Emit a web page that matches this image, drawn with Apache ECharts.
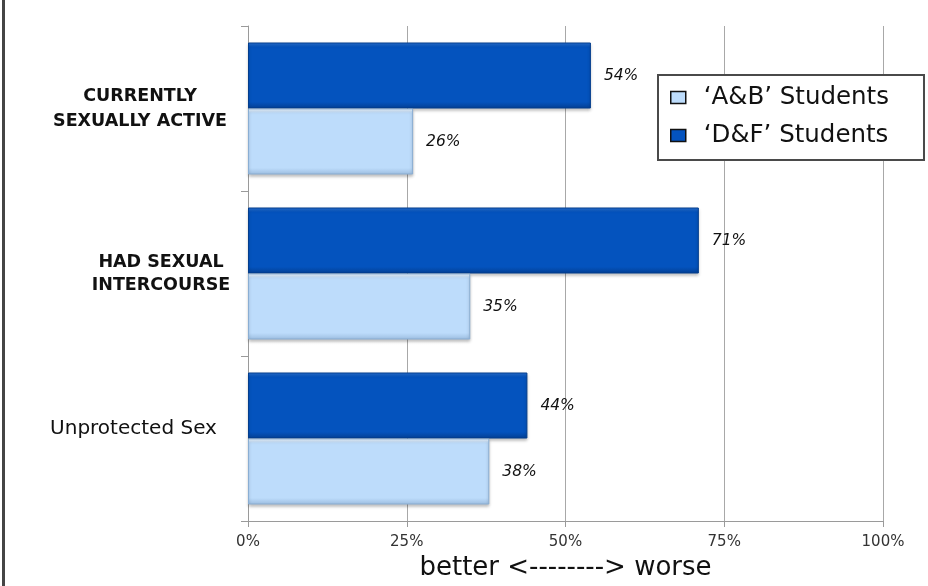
<!DOCTYPE html>
<html>
<head>
<meta charset="utf-8">
<script src="https://cdn.jsdelivr.net/npm/echarts@6/dist/echarts.min.js"></script>
<style>
html,body{margin:0;padding:0;background:#fff;}
#chart{width:928px;height:586px;}
</style>
</head>
<body>
<div id="chart"></div>
<script>
// Categories listed bottom-to-top (as drawn on the category axis)
const categories = ['Unprotected Sex', 'HAD SEXUAL\nINTERCOURSE', 'CURRENTLY\nSEXUALLY ACTIVE'];
const seriesNames = ['\u2018A&B\u2019 Students', '\u2018D&F\u2019 Students'];
const abValues = [38, 35, 26];
const dfValues = [44, 71, 54];
const xTicks = [0, 25, 50, 75, 100];
const xAxisTitle = 'better <--------> worse';

const chart = echarts.init(document.getElementById('chart'), null, {renderer: 'canvas'});
const FONT = 'DejaVu Sans';

function grad(c0, c1, c2, c3) {
  return new echarts.graphic.LinearGradient(0, 0, 0, 1, [
    {offset: 0, color: c0},
    {offset: 0.07, color: c1},
    {offset: 0.9, color: c2},
    {offset: 1, color: c3}
  ]);
}

const labelStyle = {
  show: true,
  position: 'right',
  distance: 13,
  fontFamily: FONT,
  fontSize: 15.5,
  fontStyle: 'italic',
  fontWeight: 500,
  color: '#111',
  formatter: '{c}%'
};

const option = {
  backgroundColor: '#ffffff',
  animation: false,
  textStyle: {fontFamily: FONT},
  graphic: [
    {type: 'rect', left: 2, top: 0, shape: {width: 3, height: 586}, style: {fill: '#454545'}}
  ],
  grid: {left: 248, right: 45, top: 26, bottom: 64},
  legend: {
    data: seriesNames,
    orient: 'vertical',
    left: 658,
    top: 75,
    padding: [10, 35, 12, 12],
    itemGap: 13,
    itemWidth: 15,
    itemHeight: 12,
    borderColor: '#4a4a4a',
    borderWidth: 2,
    backgroundColor: '#fff',
    icon: 'rect',
    itemStyle: {borderColor: '#111', borderWidth: 1.5},
    textStyle: {fontFamily: FONT, fontSize: 24.5, color: '#111', padding: [0, 0, 0, 13]}
  },
  xAxis: {
    type: 'value',
    min: 0,
    max: 100,
    interval: 25,
    axisLine: {show: true, lineStyle: {color: '#9a9a9a', width: 1}},
    axisTick: {show: true, length: 6, lineStyle: {color: '#9a9a9a'}},
    splitLine: {show: true, lineStyle: {color: '#a8a8a8', width: 1}},
    axisLabel: {
      margin: 14,
      fontFamily: FONT,
      fontSize: 15,
      color: '#333',
      formatter: function (v) { return xTicks.indexOf(v) >= 0 ? v + '%' : ''; }
    },
    name: xAxisTitle,
    nameLocation: 'middle',
    nameGap: 34,
    nameTextStyle: {fontFamily: FONT, fontSize: 26, color: '#111'}
  },
  yAxis: {
    type: 'category',
    data: categories,
    axisLine: {show: true, lineStyle: {color: '#9a9a9a', width: 1}},
    axisTick: {show: true, length: 7, lineStyle: {color: '#9a9a9a'}},
    splitLine: {show: false},
    axisLabel: {
      margin: 10,
      formatter: function (value, idx) {
        const lines = value.split('\n');
        const key = idx === 0 ? 'u' : (idx === 1 ? 'h' : 'c');
        return lines.map(function (l) { return '{' + key + '|' + l + '}'; }).join('\n');
      },
      rich: {
        u: {fontFamily: FONT, fontSize: 20, color: '#111', width: 209, align: 'center', padding: [0, 0, 19, 0]},
        h: {fontFamily: FONT, fontSize: 17.5, fontWeight: 'bold', color: '#111', width: 154, align: 'center', lineHeight: 23},
        c: {fontFamily: FONT, fontSize: 17.5, fontWeight: 'bold', color: '#111', width: 196, align: 'center', lineHeight: 25}
      }
    }
  },
  series: [
    {
      name: seriesNames[1],
      type: 'bar',
      data: dfValues,
      barGap: '0%',
      barCategoryGap: '20%',
      itemStyle: {
        color: grad('#2a74d8', '#0453be', '#0453be', '#033f93'),
        borderColor: '#033d8c',
        borderWidth: 1,
        shadowColor: 'rgba(0,0,0,0.25)',
        shadowBlur: 3,
        shadowOffsetY: 2
      },
      label: labelStyle
    },
    {
      name: seriesNames[0],
      type: 'bar',
      data: abValues,
      barGap: '0%',
      barCategoryGap: '20%',
      itemStyle: {
        color: grad('#f2f9ff', '#bddcfb', '#bddcfb', '#9cbde0'),
        borderColor: '#8aaed3',
        borderWidth: 1,
        shadowColor: 'rgba(0,0,0,0.25)',
        shadowBlur: 3,
        shadowOffsetY: 2
      },
      label: labelStyle
    }
  ]
};
chart.setOption(option);
</script>
</body>
</html>
